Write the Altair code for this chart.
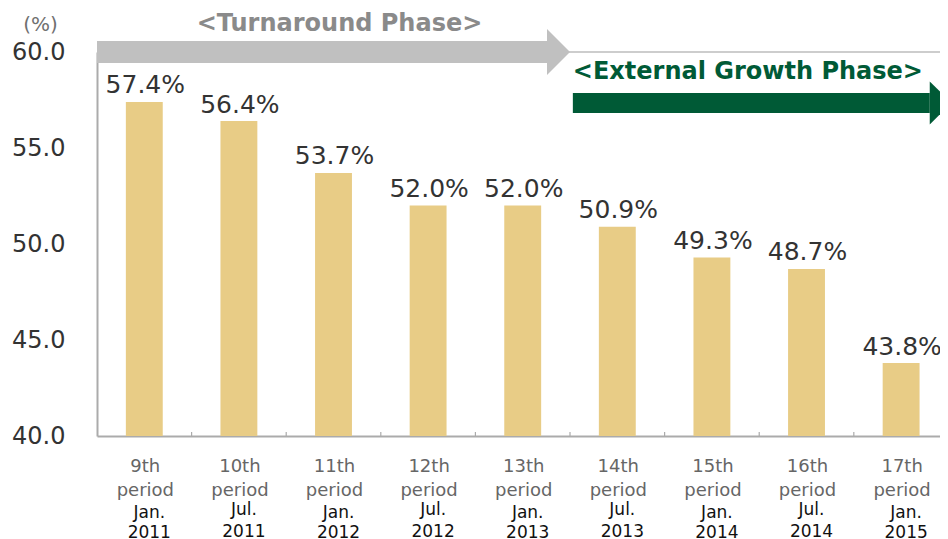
import altair as alt
import pandas as pd

# ---- data ----
periods = ["9th", "10th", "11th", "12th", "13th", "14th", "15th", "16th", "17th"]
months = ["Jan.", "Jul.", "Jan.", "Jul.", "Jan.", "Jul.", "Jan.", "Jul.", "Jan."]
years = ["2011", "2011", "2012", "2012", "2013", "2013", "2014", "2014", "2015"]
ratios = [57.4, 56.4, 53.7, 52.0, 52.0, 50.9, 49.3, 48.7, 43.8]
y_ticks = [40, 45, 50, 55, 60]

phase_names = ["<Turnaround Phase>", "<External Growth Phase>"]
phase_start = [0.0, 5.03]   # in period-band units
phase_end = [5.0, 9.03]
phase_level = [60.0, 57.35]  # arrow centre line, in % units

# ---- layout / style ----
W, H = 843, 384
X_MAX = 8.911
PX_X = W / X_MAX
PX_Y = H / 20.0
BAR = "#E8CC86"
AX = "#ABABAB"
FONT = "DejaVu Sans"
arrow_colors = ["#C0C0C0", "#005A36"]
text_colors = ["#8A8A8A", "#005A36"]
body_half_px = [11, 10]
head_half_px = [23, 21.5]

x_scale = alt.Scale(domain=[0, X_MAX], nice=False, zero=False)
y_scale = alt.Scale(domain=[40, 60], nice=False, zero=False)

X_AXIS = alt.Axis(labels=False, ticks=False, grid=False, title=None,
                  domain=True, domainColor=AX, domainWidth=2)
Y_AXIS = alt.Axis(values=y_ticks, format=".1f", ticks=False, grid=False,
                  domain=True, domainColor=AX, domainWidth=2,
                  labels=True, labelFont=FONT,
                  labelFontSize=24, labelColor="#333333", labelPadding=32,
                  labelFlush=False, labelOverlap=False,
                  title="(%)", titleAngle=0, titleAlign="center",
                  titleBaseline="middle", titleX=-57, titleY=-28,
                  titleFont=FONT, titleFontSize=20,
                  titleFontWeight="normal", titleColor="#707070")


def X(field):
    return alt.X(field, scale=x_scale, axis=X_AXIS)


def Y(field):
    return alt.Y(field, scale=y_scale, axis=Y_AXIS)


n = len(ratios)
df = pd.DataFrame({
    "idx": list(range(n)),
    "period": [p + "\nperiod" for p in periods],
    "month": months,
    "date": [m + "\n" + y for m, y in zip(months, years)],
    "ratio": ratios,
    "label": [f"{v:.1f}%" for v in ratios],
})
df["mid"] = df["idx"] + 0.5
df["x0"] = df["mid"] - 0.195
df["x1"] = df["mid"] + 0.195
df["base"] = 40.0

bars = alt.Chart(df).mark_rect(color=BAR).encode(
    x=X("x0:Q"), x2="x1:Q", y=Y("ratio:Q"), y2="base:Q",
)

bar_labels = alt.Chart(df).mark_text(
    font=FONT, fontSize=25, color="#333333", baseline="alphabetic", dy=-8.5, dx=1
).encode(x=X("mid:Q"), y=Y("ratio:Q"), text="label:N")

period_labels = alt.Chart(df).mark_text(
    font=FONT, fontSize=18, color="#666666", baseline="alphabetic",
    lineBreak="\n", lineHeight=24, dy=36, dx=1
).encode(x=X("mid:Q"), y=Y("base:Q"), text="period:N")

date_jan = alt.Chart(df).transform_filter("datum.month == 'Jan.'").mark_text(
    font=FONT, fontSize=17, color="#111111", baseline="alphabetic",
    lineBreak="\n", lineHeight=20, dy=82, dx=5
).encode(x=X("mid:Q"), y=Y("base:Q"), text="date:N")

date_jul = alt.Chart(df).transform_filter("datum.month == 'Jul.'").mark_text(
    font=FONT, fontSize=17, color="#111111", baseline="alphabetic",
    lineBreak="\n", lineHeight=22, dy=79, dx=5
).encode(x=X("mid:Q"), y=Y("base:Q"), text="date:N")

# inward tick marks between periods on the bottom axis
ticks_df = pd.DataFrame({"b": list(range(1, n)), "y0": 40.0, "y1": 40.0 + 4 / PX_Y})
inner_ticks = alt.Chart(ticks_df).mark_rule(color=AX, strokeWidth=1.2).encode(
    x=X("b:Q"), y=Y("y0:Q"), y2="y1:Q",
)

top_df = pd.DataFrame({"v": [60.0]})
top_line = alt.Chart(top_df).mark_rule(color="#BDBDBD", strokeWidth=1.5).encode(
    y=Y("v:Q"),
)

# phase arrows
ph = pd.DataFrame({
    "name": phase_names,
    "start": phase_start,
    "end": phase_end,
    "level": phase_level,
    "acolor": arrow_colors,
    "tcolor": text_colors,
})
ph["head_base"] = ph["end"] - pd.Series(head_half_px) / PX_X
ph["b0"] = ph["level"] - pd.Series(body_half_px) / PX_Y
ph["b1"] = ph["level"] + pd.Series(body_half_px) / PX_Y
ph["hsize"] = (2 * pd.Series(head_half_px)) ** 2
ph["mid_x"] = (ph["start"] + ph["end"]) / 2

arrow_body = alt.Chart(ph).mark_rect().encode(
    x=X("start:Q"), x2="head_base:Q", y=Y("b0:Q"), y2="b1:Q",
    color=alt.Color("acolor:N", scale=None),
)
arrow_head = alt.Chart(ph).mark_point(
    shape="M0,-1L1,0L0,1Z", filled=True, opacity=1, strokeWidth=0
).encode(
    x=X("head_base:Q"), y=Y("level:Q"),
    size=alt.Size("hsize:Q", scale=None),
    color=alt.Color("acolor:N", scale=None),
)

label_turn = alt.Chart(ph).transform_filter("datum.start == 0").mark_text(
    font=FONT, fontSize=24, fontWeight="bold", baseline="middle", align="center",
    dy=-28, dx=6
).encode(
    x=X("mid_x:Q"), y=Y("level:Q"), text="name:N",
    color=alt.Color("tcolor:N", scale=None),
)
label_ext = alt.Chart(ph).transform_filter("datum.start > 0").mark_text(
    font=FONT, fontSize=24, fontWeight="bold", baseline="middle", align="left",
    dy=-31, dx=0
).encode(
    x=X("start:Q"), y=Y("level:Q"), text="name:N",
    color=alt.Color("tcolor:N", scale=None),
)

chart = alt.layer(
    bars, top_line, inner_ticks, bar_labels, period_labels, date_jan, date_jul,
    arrow_body, arrow_head, label_turn, label_ext,
).properties(
    width=W, height=H,
    autosize=alt.AutoSizeParams(type="none"),
    padding={"left": 89, "top": 44, "right": 0, "bottom": 103},
    background="white",
).configure_view(stroke=None)

chart.save("out.html", embed_options={"renderer": "svg", "actions": False})
